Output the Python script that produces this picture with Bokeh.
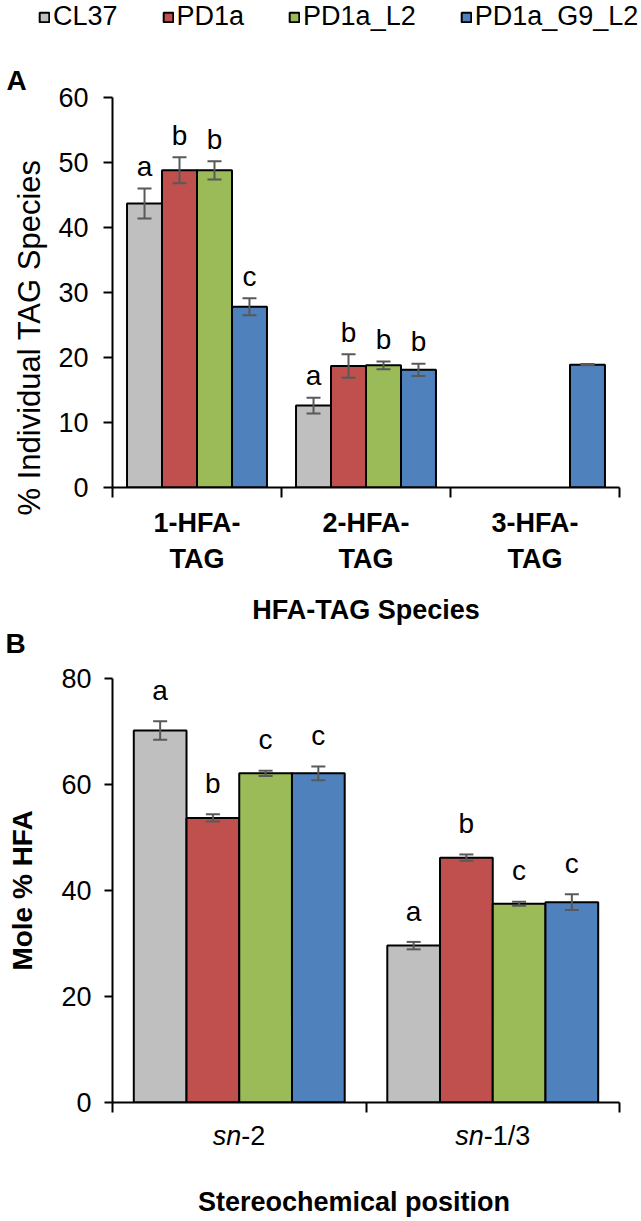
from bokeh.plotting import figure
from bokeh.models import (ColumnDataSource, Range1d, LinearAxis, FixedTicker,
                          Whisker, TeeHead, Label, Legend, LegendItem, Title)
from bokeh.layouts import column, row
from bokeh.embed import file_html
from bokeh.resources import INLINE
from bokeh.core.properties import value

FONT = "Liberation Sans"

# ---------------- data ----------------
series_names = ["CL37", "PD1a", "PD1a_L2", "PD1a_G9_L2"]
series_colors = ["#BFBFBF", "#C0504D", "#9BBB59", "#4F81BD"]

# Panel A
a_categories = ["1-HFA-TAG", "2-HFA-TAG", "3-HFA-TAG"]
a_tick_labels = ["1-HFA-\nTAG", "2-HFA-\nTAG", "3-HFA-\nTAG"]
a_cl37 = [43.7, 12.6, None]
a_pd1a = [48.8, 18.7, None]
a_pd1a_l2 = [48.8, 18.8, None]
a_pd1a_g9_l2 = [27.8, 18.1, 18.9]
a_err_cl37 = [2.3, 1.2, None]
a_err_pd1a = [2.0, 1.8, None]
a_err_pd1a_l2 = [1.4, 0.6, None]
a_err_pd1a_g9_l2 = [1.3, 0.95, 0.1]
a_let_cl37 = ["a", "a", ""]
a_let_pd1a = ["b", "b", ""]
a_let_pd1a_l2 = ["b", "b", ""]
a_let_pd1a_g9_l2 = ["c", "b", ""]
a_y_ticks = [0, 10, 20, 30, 40, 50, 60]

# Panel B
b_categories = ["sn-2", "sn-1/3"]
b_tick_prefix = ["sn", "sn"]
b_tick_suffix = ["-2", "-1/3"]
b_cl37 = [70.2, 29.6]
b_pd1a = [53.7, 46.2]
b_pd1a_l2 = [62.1, 37.5]
b_pd1a_g9_l2 = [62.1, 37.8]
b_err_cl37 = [1.75, 0.7]
b_err_pd1a = [0.7, 0.6]
b_err_pd1a_l2 = [0.5, 0.4]
b_err_pd1a_g9_l2 = [1.3, 1.5]
b_let_cl37 = ["a", "a"]
b_let_pd1a = ["b", "b"]
b_let_pd1a_l2 = ["c", "c"]
b_let_pd1a_g9_l2 = ["c", "c"]
b_y_ticks = [0, 20, 40, 60, 80]

ERR_COLOR = "#595959"
W = 638
LEFT = 111
RIGHT = 19


def style_axis(ax, size, standoff, tick_out):
    ax.axis_line_color = "black"
    ax.axis_line_width = 2
    ax.major_tick_line_color = "black"
    ax.major_tick_line_width = 2
    ax.major_tick_out = tick_out
    ax.major_tick_in = 0
    ax.minor_tick_line_color = None
    ax.major_label_text_font = FONT
    ax.major_label_text_font_size = size
    ax.major_label_text_color = "black"
    ax.major_label_standoff = standoff


def style_title(ax, text, size, standoff):
    ax.axis_label = text
    ax.axis_label_text_font = FONT
    ax.axis_label_text_font_size = size
    ax.axis_label_text_font_style = "bold"
    ax.axis_label_text_color = "black"
    ax.axis_label_standoff = standoff


def add_bars(p, values, errs, letters, width, gap):
    out = []
    for j, (vals, ers, lets, color) in enumerate(zip(values, errs, letters, series_colors)):
        xs, tops, ups, los = [], [], [], []
        lx, ly, lt = [], [], []
        for i, v in enumerate(vals):
            if v is None:
                continue
            x = i + 0.5 + (j - 1.5) * width
            e = ers[i] or 0.0
            xs.append(x)
            tops.append(v)
            ups.append(v + e)
            los.append(v - e)
            if lets[i]:
                lx.append(x)
                ly.append(v + e + gap)
                lt.append(lets[i])
        src = ColumnDataSource(dict(x=xs, top=tops, upper=ups, lower=los))
        p.vbar(x="x", top="top", bottom=0, width=width, source=src,
               fill_color=color, line_color="black", line_width=2)
        out.append(src)
        wh = Whisker(base="x", upper="upper", lower="lower", source=src,
                     line_color=ERR_COLOR, line_width=2,
                     upper_head=TeeHead(size=14, line_color=ERR_COLOR, line_width=2),
                     lower_head=TeeHead(size=14, line_color=ERR_COLOR, line_width=2))
        wh.level = "overlay"
        p.add_layout(wh)
        lsrc = ColumnDataSource(dict(x=lx, y=ly, t=lt))
        p.text(x="x", y="y", text="t", source=lsrc, text_font=value(FONT),
               text_font_size="28px", text_align="center",
               text_baseline="alphabetic", text_color="black")
    return out


def strip(h, x_range, left=0, right=0):
    s = figure(width=W, height=h, output_backend="svg", toolbar_location=None,
               x_range=x_range, y_range=Range1d(h, 0),
               x_axis_type=None, y_axis_type=None,
               min_border_left=left, min_border_right=right,
               min_border_top=0, min_border_bottom=0)
    s.outline_line_color = None
    return s


# ---------------- panel A ----------------
pA = figure(width=W, height=564, output_backend="svg", toolbar_location=None,
            x_range=Range1d(0, len(a_categories)), y_range=Range1d(0, 60),
            x_axis_type=None, min_border_left=LEFT, min_border_right=RIGHT,
            min_border_top=34, min_border_bottom=139)
pA.outline_line_color = None
pA.ygrid.visible = False
pA.yaxis.ticker = a_y_ticks
style_axis(pA.yaxis[0], "27px", 15, 9)
pA.add_layout(Title(text="% Individual TAG Species", align="left", offset=-28,
                    vertical_align="bottom", standoff=18, text_font=FONT,
                    text_font_size="31px", text_font_style="normal",
                    text_color="black"), "left")
pA.add_layout(Title(text="A", align="left", offset=-106, vertical_align="top",
                    standoff=0, text_font=FONT, text_font_size="28px",
                    text_font_style="bold", text_color="black"), "above")

axA1 = LinearAxis(ticker=FixedTicker(ticks=list(range(len(a_categories) + 1))),
                  major_label_overrides={i: "" for i in range(len(a_categories) + 1)})
style_axis(axA1, "1px", 0, 10)
pA.add_layout(axA1, "below")

a_centers = [i + 0.5 for i in range(len(a_categories))]
axA2 = LinearAxis(ticker=FixedTicker(ticks=a_centers),
                  major_label_overrides={c: lab for c, lab in zip(a_centers, a_tick_labels)})
style_axis(axA2, "27px", 10, 0)
axA2.axis_line_color = None
axA2.major_tick_line_color = None
axA2.major_label_text_font_style = "bold"
style_title(axA2, "HFA-TAG Species", "27px", 18)
pA.add_layout(axA2, "below")

srcA = add_bars(pA, [a_cl37, a_pd1a, a_pd1a_l2, a_pd1a_g9_l2],
                [a_err_cl37, a_err_pd1a, a_err_pd1a_l2, a_err_pd1a_g9_l2],
                [a_let_cl37, a_let_pd1a, a_let_pd1a_l2, a_let_pd1a_g9_l2],
                0.207, 3.4)

# ---------------- top strip: legend ----------------
s_top = strip(63, Range1d(0, W))
leg_items = []
for name, color, src in zip(series_names, series_colors, srcA):
    r = s_top.vbar(x="x", top="top", bottom=0, width=0.207, source=src,
                   fill_color=color, line_color="black", line_width=2, visible=False)
    leg_items.append(LegendItem(label=name, renderers=[r]))
leg = Legend(items=leg_items, orientation="horizontal", location=(38, 31),
             glyph_width=12, glyph_height=12, label_standoff=3, spacing=44,
             padding=0, margin=0, border_line_color=None,
             background_fill_alpha=0, inactive_fill_alpha=0,
             label_text_font=FONT, label_text_font_size="27px",
             label_text_color="black")
s_top.add_layout(leg)

# ---------------- middle strip: "B" ----------------
s_mid = strip(34, Range1d(0, W))
s_mid.add_layout(Label(x=5, y=16, text="B", text_font=FONT, text_font_size="28px",
                       text_font_style="bold", text_align="left",
                       text_baseline="middle", text_color="black"))

# ---------------- panel B ----------------
pB = figure(width=W, height=457, output_backend="svg", toolbar_location=None,
            x_range=Range1d(0, len(b_categories)), y_range=Range1d(0, 80),
            x_axis_type=None, min_border_left=LEFT, min_border_right=RIGHT,
            min_border_top=17, min_border_bottom=16)
pB.outline_line_color = None
pB.ygrid.visible = False
pB.yaxis.ticker = b_y_ticks
style_axis(pB.yaxis[0], "27px", 13, 8)
style_title(pB.yaxis[0], "Mole % HFA", "28px", 20)

axB1 = LinearAxis(ticker=FixedTicker(ticks=list(range(len(b_categories) + 1))),
                  major_label_overrides={i: "" for i in range(len(b_categories) + 1)})
style_axis(axB1, "1px", 0, 10)
pB.add_layout(axB1, "below")

add_bars(pB, [b_cl37, b_pd1a, b_pd1a_l2, b_pd1a_g9_l2],
         [b_err_cl37, b_err_pd1a, b_err_pd1a_l2, b_err_pd1a_g9_l2],
         [b_let_cl37, b_let_pd1a, b_let_pd1a_l2, b_let_pd1a_g9_l2],
         0.208, 5.8)

# ---------------- bottom strip: category labels + x title ----------------
s_bot = strip(101, pB.x_range, left=LEFT, right=RIGHT)
sn_offsets = [2, -9]
for i, (pre, suf) in enumerate(zip(b_tick_prefix, b_tick_suffix)):
    s_bot.add_layout(Label(x=i + 0.5, y=17, text=pre, x_offset=sn_offsets[i],
                           text_font=FONT, text_font_size="27px",
                           text_font_style="italic", text_align="right",
                           text_baseline="middle", text_color="black"))
    s_bot.add_layout(Label(x=i + 0.5, y=17, text=suf, x_offset=sn_offsets[i],
                           text_font=FONT, text_font_size="27px",
                           text_align="left", text_baseline="middle",
                           text_color="black"))
s_bot.add_layout(Label(x=len(b_categories) / 2, y=83, x_offset=-12,
                       text="Stereochemical position", text_font=FONT,
                       text_font_size="27px", text_font_style="bold",
                       text_align="center", text_baseline="middle",
                       text_color="black"))

layout = column(row(s_top), pA, row(s_mid), pB, s_bot, spacing=0)
open("out.html", "w").write(file_html(layout, INLINE))
